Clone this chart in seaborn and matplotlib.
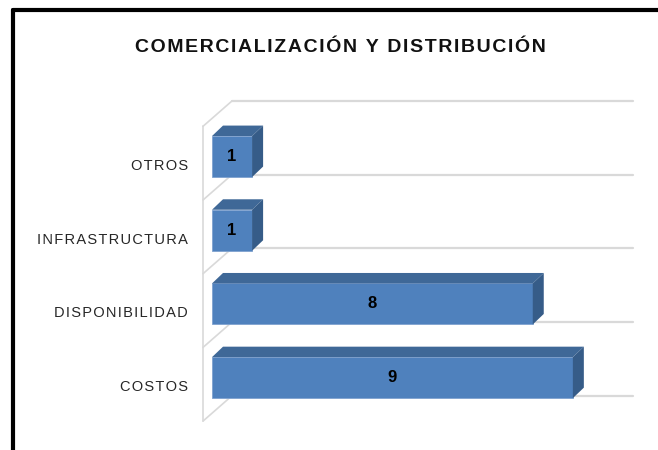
import matplotlib
matplotlib.use("Agg")
import matplotlib.pyplot as plt
from matplotlib.patches import Polygon
from matplotlib.lines import Line2D
from matplotlib.transforms import ScaledTranslation
import seaborn as sns
import pandas as pd

sns.set_theme(style="white")
plt.rcParams["font.family"] = ["Liberation Sans", "DejaVu Sans"]

TITLE = "COMERCIALIZACIÓN Y DISTRIBUCIÓN"
categories = ["OTROS", "INFRASTRUCTURA", "DISPONIBILIDAD", "COSTOS"]
values = [1, 1, 8, 9]
x_max = 10

FRONT = "#4F81BD"
TOP = "#3F6897"
SIDE = "#365C88"
GRID = "#D9D9D9"


def spaced(text, sep="\u200a"):
    return sep.join(text)


df = pd.DataFrame({"categoria": categories, "valor": values})

fig = plt.figure(figsize=(6.58, 4.5), dpi=100)
ax = fig.add_axes([203 / 658, 30 / 450, 430 / 658, 320 / 450])

bar_h = 0.556
sns.barplot(data=df, x="valor", y="categoria", orient="h", color=FRONT,
            saturation=1, width=bar_h, ax=ax, zorder=3,
            edgecolor="#7FA2CF", linewidth=0.6)

# 3d look: top and side faces of each bar
dx, dy = 0.274, 0.142
for p in ax.patches:
    x0, y0 = p.get_x(), p.get_y()
    w, h = p.get_width(), p.get_height()
    top = [(x0, y0), (x0 + w, y0), (x0 + w + dx, y0 - dy), (x0 + dx, y0 - dy)]
    side = [(x0 + w, y0), (x0 + w + dx, y0 - dy),
            (x0 + w + dx, y0 + h - dy), (x0 + w, y0 + h)]
    ax.add_patch(Polygon(top, closed=True, facecolor=TOP, edgecolor="none", zorder=3))
    ax.add_patch(Polygon(side, closed=True, facecolor=SIDE, edgecolor="none", zorder=3))

ax.bar_label(ax.containers[0], label_type="center", fontweight="bold",
             fontsize=12, color="black", zorder=5)

# walls / gridlines
front_x, back_x0, back_x1 = -0.225, 0.5, x_max + 0.5
front_off, back_off = 0.09, -0.255
n = len(categories)
for i in range(n + 1):
    b = i - 0.5
    ax.plot([back_x0, back_x1], [b + back_off, b + back_off], color=GRID,
            lw=1.6, zorder=1, clip_on=False)
    ax.plot([front_x, back_x0], [b + front_off, b + back_off], color=GRID,
            lw=1.2, zorder=1, clip_on=False)
ax.plot([front_x, front_x], [-0.5 + front_off, n - 0.5 + front_off], color=GRID,
        lw=1.2, zorder=1, clip_on=False)

ax.set_xlim(front_x, back_x1)
ax.set_ylim(3.575, -0.767)
ax.set_xticks([])
ax.set_xlabel("")
ax.set_ylabel("")
for s in ax.spines.values():
    s.set_visible(False)

ax.set_yticks(range(n))
ax.set_yticklabels([spaced(c) for c in categories], fontsize=10.5, color="#262626")
ax.tick_params(axis="y", length=0, pad=11)
shift = ScaledTranslation(0, -0.08, fig.dpi_scale_trans)
for lab in ax.get_yticklabels():
    lab.set_transform(lab.get_transform() + shift)

fig.text(340 / 658, 1 - 47 / 450, spaced(TITLE), ha="center", va="center",
         fontsize=14, fontweight="bold", color="#111111")

# outer border (top + left)
fig.add_artist(Line2D([13 / 658, 1], [1 - 10.3 / 450, 1 - 10.3 / 450],
                      color="black", lw=3, transform=fig.transFigure))
fig.add_artist(Line2D([13 / 658, 13 / 658], [0, 1 - 10.3 / 450],
                      color="black", lw=3, transform=fig.transFigure))

fig.savefig("out.png", dpi=100, facecolor="white")
